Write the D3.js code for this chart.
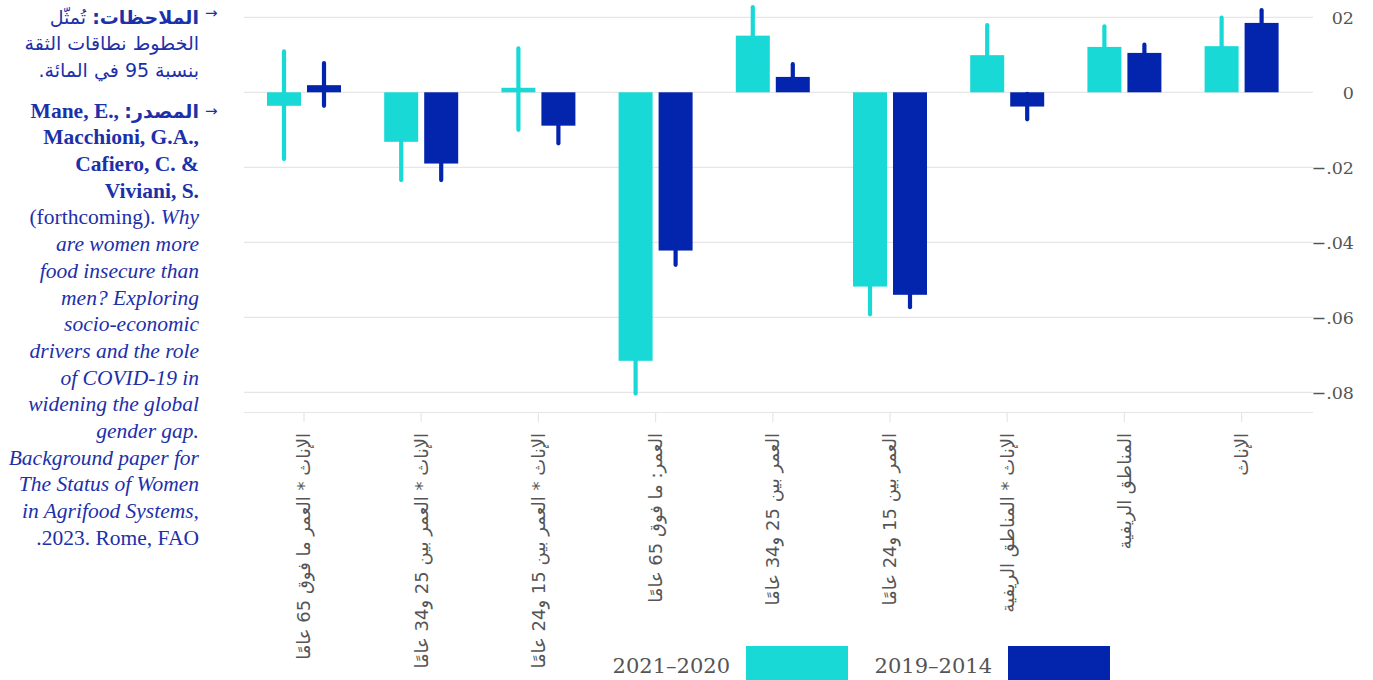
<!DOCTYPE html>
<html>
<head>
<meta charset="utf-8">
<script src="https://cdn.jsdelivr.net/npm/d3@7"></script>
<style>
  html, body { margin: 0; padding: 0; background: #fff; }
  body { width: 1373px; height: 680px; position: relative; overflow: hidden; }
  #notes { position: absolute; left: 0; top: 0; width: 230px; height: 680px; }
  .ln { position: absolute; left: 0; width: 199px; text-align: right; white-space: nowrap;
        font-family: "Liberation Serif", "DejaVu Sans", serif; font-size: 21.5px; line-height: 26.7px; color: #1c30aa; }
  .ar { font-family: "DejaVu Sans", sans-serif; font-size: 19px; }
  .arrow { position: absolute; left: 205px; font-family: "DejaVu Sans", sans-serif; font-size: 15px; color: #1c30aa; }
  svg { position: absolute; left: 0; top: 0; }
</style>
</head>
<body>
<div id="notes"></div>
<svg id="chart" width="1373" height="680"></svg>
<script>
// ---- data ----
const categories = [
  "الإناث * العمر ما فوق 65 عامًا",
  "الإناث * العمر بين 25 و34 عامًا",
  "الإناث * العمر بين 15 و24 عامًا",
  "العمر: ما فوق 65 عامًا",
  "العمر بين 25 و34 عامًا",
  "العمر بين 15 و24 عامًا",
  "الإناث * المناطق الريفية",
  "المناطق الريفية",
  "الإناث"
];
const seriesNames = ["2021–2020", "2019–2014"];
const values2021 = [-0.0036, -0.0132, 0.0012, -0.0716, 0.0151, -0.0518, 0.0099, 0.0121, 0.0123];
const low2021    = [-0.0178, -0.0234, -0.0100, -0.0803, 0.0075, -0.0592, 0.0019, 0.0066, 0.0047];
const high2021   = [ 0.0109, -0.0030,  0.0117, -0.0629, 0.0227, -0.0444, 0.0179, 0.0176, 0.0199];
const values2019 = [ 0.0019, -0.0190, -0.0089, -0.0422, 0.0041, -0.0540, -0.0038, 0.0105, 0.0185];
const low2019    = [-0.0036, -0.0234, -0.0136, -0.0460, 0.0007, -0.0573, -0.0072, 0.0083, 0.0151];
const high2019   = [ 0.0078, -0.0146, -0.0042, -0.0384, 0.0075, -0.0507, -0.0004, 0.0127, 0.0219];
const yTicks = [0.02, 0, -0.02, -0.04, -0.06, -0.08];
const yTickLabels = ["02", "0", "−.02", "−.04", "−.06", "−.08"];
const colors = ["#18d9d6", "#0325ae"];

const noteLines1 = [
  {html: "<b>الملاحظات:</b> تُمثّل", dir: "rtl", ar: true},
  {html: "الخطوط نطاقات الثقة", dir: "rtl", ar: true},
  {html: "بنسبة 95 في المائة.", dir: "rtl", ar: true}
];
const noteLines2 = [
  {html: "<b>Mane, E., <span class=\"ar\">:المصدر</span></b>", dir: "ltr"},
  {html: "<b>Macchioni, G.A.,</b>", dir: "ltr"},
  {html: "<b>Cafiero, C. &amp;</b>", dir: "ltr"},
  {html: "<b>Viviani, S.</b>", dir: "ltr"},
  {html: "(forthcoming). <i>Why</i>", dir: "ltr"},
  {html: "<i>are women more</i>", dir: "ltr"},
  {html: "<i>food insecure than</i>", dir: "ltr"},
  {html: "<i>men? Exploring</i>", dir: "ltr"},
  {html: "<i>socio-economic</i>", dir: "ltr"},
  {html: "<i>drivers and the role</i>", dir: "ltr"},
  {html: "<i>of COVID-19 in</i>", dir: "ltr"},
  {html: "<i>widening the global</i>", dir: "ltr"},
  {html: "<i>gender gap.</i>", dir: "ltr"},
  {html: "<i>Background paper for</i>", dir: "ltr"},
  {html: "<i>The Status of Women</i>", dir: "ltr"},
  {html: "<i>in Agrifood Systems,</i>", dir: "ltr"},
  {html: ".2023. Rome, FAO", dir: "ltr"}
];

// ---- notes ----
const notes = d3.select("#notes");
const lh = 26.7;
function addLines(lines, firstCenter) {
  lines.forEach((l, i) => {
    notes.append("div")
      .attr("class", "ln" + (l.ar ? " ar" : ""))
      .attr("dir", l.dir)
      .style("top", (firstCenter + i * lh - lh / 2) + "px")
      .html(l.html);
  });
}
addLines(noteLines1, 17);
addLines(noteLines2, 111);
notes.append("div").attr("class", "arrow").style("top", "4px").text("→");
notes.append("div").attr("class", "arrow").style("top", "102px").text("→");

// ---- chart ----
const svg = d3.select("#chart");
const gridLeft = 244, gridRight = 1313;
const x = d3.scaleBand().domain(categories).range([245.4, 1300.2]).padding(0);
const y = d3.scaleLinear().domain([-0.08525, 0.02461]).range([412, 0]);
const barW = 34, offset = 20;

// gridlines
svg.append("g").selectAll("line").data(yTicks).join("line")
  .attr("x1", gridLeft).attr("x2", gridRight)
  .attr("y1", d => y(d)).attr("y2", d => y(d))
  .attr("stroke", "#e6e6e6").attr("stroke-width", 1.2);

// y tick labels
svg.append("g").selectAll("text").data(yTicks).join("text")
  .attr("x", 1354).attr("y", d => y(d)).attr("dy", "0.36em")
  .attr("text-anchor", "end")
  .attr("font-family", "DejaVu Serif, serif").attr("font-size", 17.5)
  .attr("fill", "#555")
  .text((d, i) => yTickLabels[i]);

// x axis
const xAxis = d3.axisBottom(x).tickSize(10).tickFormat("");
const gx = svg.append("g").attr("transform", "translate(0,412)").call(xAxis);
gx.select(".domain").remove();
gx.selectAll(".tick text").remove();
gx.selectAll(".tick line").attr("stroke", "#e6e6e6").attr("stroke-width", 1.2);
svg.append("line").attr("x1", gridLeft).attr("x2", gridRight).attr("y1", 412.5).attr("y2", 412.5)
  .attr("stroke", "#e6e6e6").attr("stroke-width", 1.2);

// x labels
svg.append("g").selectAll("text").data(categories).join("text")
  .attr("transform", d => `translate(${x(d) + x.bandwidth() / 2},433) rotate(-90)`)
  .attr("text-anchor", "end").attr("dy", "0.35em")
  .attr("font-family", "DejaVu Sans, sans-serif").attr("font-size", 18)
  .attr("fill", "#555")
  .text(d => d);

// bars + error bars
const series = [
  {vals: values2021, lo: low2021, hi: high2021, dx: -offset, color: colors[0]},
  {vals: values2019, lo: low2019, hi: high2019, dx: offset, color: colors[1]}
];
series.forEach(s => {
  const g = svg.append("g");
  g.selectAll("rect").data(categories).join("rect")
    .attr("x", (d, i) => x(d) + x.bandwidth() / 2 + s.dx - barW / 2)
    .attr("width", barW)
    .attr("y", (d, i) => Math.min(y(s.vals[i]), y(0)))
    .attr("height", (d, i) => Math.abs(y(s.vals[i]) - y(0)))
    .attr("fill", s.color);
  g.selectAll("line").data(categories).join("line")
    .attr("x1", (d, i) => x(d) + x.bandwidth() / 2 + s.dx)
    .attr("x2", (d, i) => x(d) + x.bandwidth() / 2 + s.dx)
    .attr("y1", (d, i) => y(s.lo[i]))
    .attr("y2", (d, i) => y(s.hi[i]))
    .attr("stroke", s.color).attr("stroke-width", 4.2).attr("stroke-linecap", "round");
});

// legend
const legendX = [746, 1008];
const lg = svg.append("g");
seriesNames.forEach((name, i) => {
  lg.append("rect").attr("x", legendX[i]).attr("y", 646).attr("width", 102).attr("height", 34)
    .attr("fill", colors[i]);
  lg.append("text").attr("x", legendX[i] - 16).attr("y", 673)
    .attr("text-anchor", "end")
    .attr("font-family", "DejaVu Serif, serif").attr("font-size", 21)
    .attr("fill", "#555").text(name);
});
</script>
</body>
</html>
